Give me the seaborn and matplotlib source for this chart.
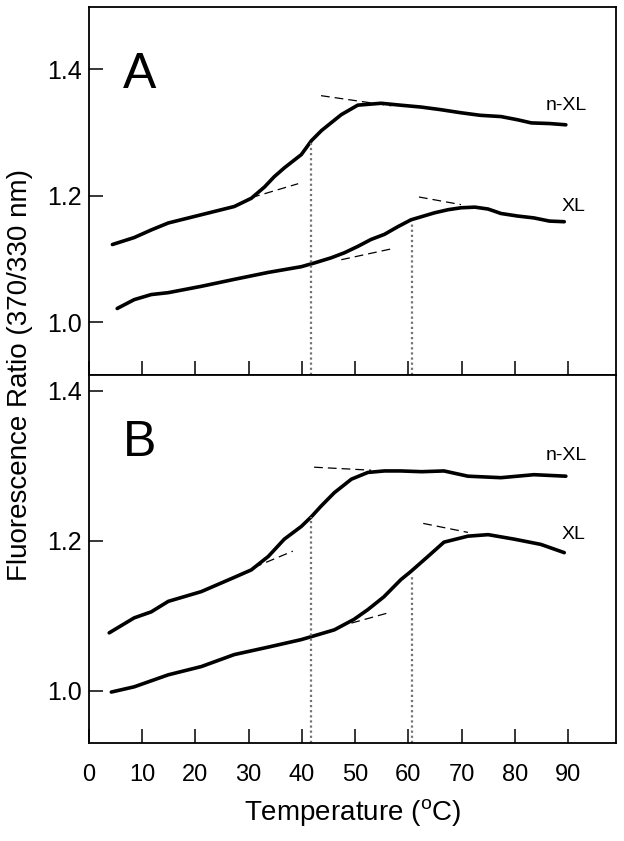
import numpy as np
import matplotlib
matplotlib.use('Agg')
import matplotlib.pyplot as plt
import seaborn as sns

# panel A readings
temp_a_nxl = [4.4, 8.5, 11.7, 14.9, 21.1, 27.3, 30.5, 33.0, 34.8, 36.7, 39.9, 41.8, 43.7,
              47.4, 50.5, 54.9, 58.5, 62.4, 66.0, 69.9, 73.5, 77.4, 80.5, 83.1, 86.5, 89.6]
ratio_a_nxl = [1.123, 1.134, 1.146, 1.157, 1.170, 1.183, 1.196, 1.214, 1.230, 1.244, 1.265,
               1.287, 1.303, 1.328, 1.343, 1.346, 1.343, 1.340, 1.336, 1.331, 1.327, 1.325,
               1.320, 1.315, 1.314, 1.312]
temp_a_xl = [5.3, 8.5, 11.7, 14.9, 21.1, 27.3, 33.7, 39.9, 42.4, 45.5, 48.0, 50.5, 53.0, 55.5,
             58.0, 60.5, 62.5, 64.9, 67.5, 69.9, 72.5, 75.0, 77.4, 80.5, 83.6, 86.5, 89.3]
ratio_a_xl = [1.022, 1.036, 1.044, 1.047, 1.057, 1.068, 1.079, 1.088, 1.094, 1.102, 1.110,
              1.120, 1.131, 1.139, 1.151, 1.162, 1.167, 1.173, 1.178, 1.181, 1.182, 1.179,
              1.172, 1.168, 1.165, 1.160, 1.159]

# panel B readings
temp_b_nxl = [3.8, 8.5, 11.7, 14.9, 21.1, 27.3, 30.5, 33.7, 36.7, 39.9, 41.8, 43.6, 46.1,
              49.3, 52.4, 55.5, 58.6, 62.5, 66.7, 71.2, 77.4, 83.6, 89.6]
ratio_b_nxl = [1.077, 1.097, 1.105, 1.119, 1.132, 1.151, 1.161, 1.179, 1.202, 1.219, 1.232,
               1.246, 1.264, 1.282, 1.291, 1.293, 1.293, 1.292, 1.293, 1.286, 1.284, 1.288,
               1.286]
temp_b_xl = [4.2, 8.5, 14.9, 21.1, 27.3, 33.7, 39.9, 46.1, 49.8, 52.4, 55.4, 58.6, 60.5, 63.7,
             66.7, 71.2, 75.0, 79.9, 84.9, 89.3]
ratio_b_xl = [0.998, 1.005, 1.021, 1.032, 1.048, 1.058, 1.068, 1.081, 1.095, 1.108, 1.125,
              1.148, 1.159, 1.179, 1.198, 1.206, 1.208, 1.202, 1.195, 1.184]

# dashed pre/post transition baselines: (t0, y0, t1, y1)
baselines_a = [(30.5, 1.197, 39.3, 1.219), (43.6, 1.358, 56.8, 1.342),
               (47.4, 1.099, 57.3, 1.117), (62.0, 1.198, 69.9, 1.186)]
baselines_b = [(30.9, 1.164, 38.3, 1.186), (42.3, 1.298, 53.0, 1.294),
               (49.3, 1.090, 56.4, 1.104), (62.8, 1.223, 71.2, 1.211)]

# midpoint temperatures (dotted drops) and the curve value where they start
tm_temps = [41.8, 60.6]
tm_top_a = [1.285, 1.157]
tm_top_b = [1.232, 1.152]

label_pos_a = [(89.6, 1.343), (91.0, 1.183)]
label_pos_b = [(89.6, 1.314), (91.0, 1.208)]
curve_names = ['n-XL', 'XL']

ylims = [(0.917, 1.498), (0.930, 1.421)]
xticks = list(range(0, 100, 10))
yticks = [1.0, 1.2, 1.4]

sns.set_style('ticks', {'axes.edgecolor': 'black', 'text.color': 'black',
                        'axes.labelcolor': 'black', 'xtick.color': 'black',
                        'ytick.color': 'black'})
plt.rcParams['font.family'] = ['Liberation Sans', 'DejaVu Sans']
plt.rcParams['mathtext.fontset'] = 'custom'
plt.rcParams['mathtext.rm'] = 'Liberation Sans'

fig, axes = plt.subplots(2, 1, figsize=(6.24, 8.41), dpi=100, sharex=True)
fig.subplots_adjust(left=0.1426, right=0.987, top=0.9917, bottom=0.1165, hspace=0)

panels = [
    (temp_a_nxl, ratio_a_nxl, temp_a_xl, ratio_a_xl, baselines_a, tm_top_a, label_pos_a, 'A'),
    (temp_b_nxl, ratio_b_nxl, temp_b_xl, ratio_b_xl, baselines_b, tm_top_b, label_pos_b, 'B'),
]

for ax, (tn, rn, tx, rx, base, tops, lpos, letter), ylim in zip(axes, panels, ylims):
    sns.lineplot(x=tn, y=rn, ax=ax, color='black', lw=2.6, estimator=None)
    sns.lineplot(x=tx, y=rx, ax=ax, color='black', lw=2.6, estimator=None)
    for t0, y0, t1, y1 in base:
        ax.plot([t0, t1], [y0, y1], color='black', lw=0.9, ls=(0, (7, 4)))
    ax.vlines(tm_temps, ylim[0], tops, colors='0.45', lw=1.6, linestyles=(0, (1, 1.3)))
    for (lx, ly), name in zip(lpos, curve_names):
        ax.text(lx, ly, name, ha='center', va='center', fontsize=14, color='black')
    ax.text(0.065, 0.781, letter, transform=ax.transAxes, ha='left', va='baseline',
            fontsize=36, color='black')
    ax.set_xlim(0, 99)
    ax.set_ylim(*ylim)
    ax.set_yticks(yticks)
    ax.set_yticklabels([f'{v:.1f}' for v in yticks])
    ax.set_xticks(xticks)
    ax.tick_params(axis='both', direction='in', length=10, width=1.1, labelsize=18,
                   colors='black')
    ax.tick_params(axis='y', pad=5)
    ax.tick_params(axis='x', pad=15, labelsize=17)
    for sp in ax.spines.values():
        sp.set_visible(True)
        sp.set_linewidth(1.3)
        sp.set_color('black')
    ax.set_ylabel('')
    ax.set_xlabel('')

axes[0].tick_params(axis='x', labelbottom=False)
axes[1].set_xlabel('Temperature ($\\mathregular{^o}$C)', fontsize=20, labelpad=8,
                   color='black')
fig.text(0.011, 0.554, 'Fluorescence Ratio (370/330 nm)', rotation=90,
         ha='left', va='center', fontsize=20, color='black')

fig.savefig('out.png', dpi=100)
